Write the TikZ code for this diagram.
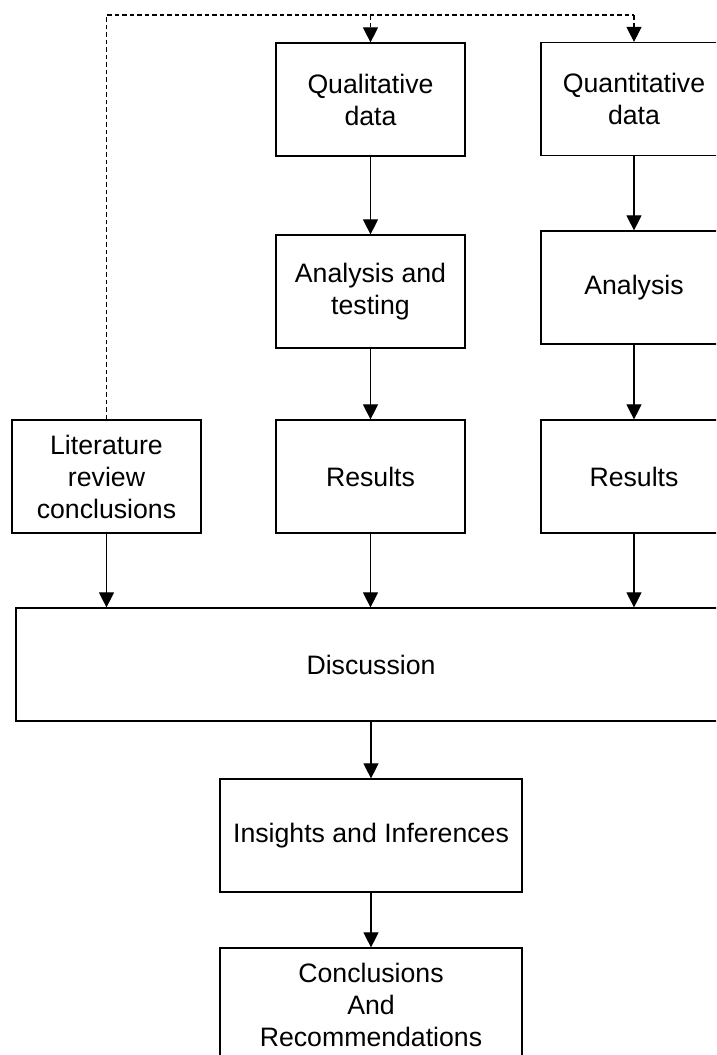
\documentclass[tikz,border=0pt]{standalone}
\usepackage{fontspec}
\setmainfont{Liberation Sans}
\usetikzlibrary{arrows.meta}
\begin{document}
\begin{tikzpicture}[x=1pt,y=-1pt,
  box/.style={draw=black,line width=1.2pt,rectangle,inner sep=0pt,align=center,
    font=\fontsize{26.67}{32}\selectfont},
  std/.style={box,minimum width=189pt,minimum height=113pt},
  rcol/.style={box,minimum width=186pt,minimum height=113pt},
  wide/.style={box,minimum width=302pt,minimum height=113pt},
  arr/.style={line width=1.1pt,-{Triangle[width=15pt,length=15pt]}},
  darr/.style={line width=1.1pt,dash pattern=on 4.5pt off 3pt,-{Triangle[width=15pt,length=15pt]}},
  dline/.style={line width=1.1pt,dash pattern=on 4.5pt off 3pt}]
\useasboundingbox (0,0) rectangle (716,1055);
\clip (0,0) rectangle (716,1055);
\fill[white] (0,0) rectangle (716,1055);
\node[std]  (qual)  at (370.5,99.5)  {Qualitative\\data};
\node[rcol] (quant) at (634,99)      {Quantitative\\data};
\node[std]  (anat)  at (370.5,291.5) {Analysis and\\testing};
\node[rcol] (ana)   at (634,287.5)   {Analysis};
\node[std]  (lit)   at (106.5,476.5) {Literature\\review\\conclusions};
\node[std]  (res1)  at (370.5,476.5) {Results};
\node[rcol] (res2)  at (634,476.5)   {Results};
\node[box,minimum width=710pt,minimum height=113pt] (disc) at (371,664.5) {Discussion};
\node[wide] (ins)   at (371,835.5)   {Insights and Inferences};
\node[wide] (conc)  at (371,1004.5)  {Conclusions\\And\\Recommendations};
\coordinate (top) at (0,15);
% dashed feedback
\draw[dline] (lit.north) -- (lit.north |- top) -- (quant.north |- top);
\draw[darr] (quant.north |- top) -- (quant.north);
\draw[darr] (qual.north |- top) -- (qual.north);
% solid arrows
\draw[arr] (qual.south) -- (anat.north);
\draw[arr] (quant.south) -- (ana.north);
\draw[arr] (anat.south) -- (res1.north);
\draw[arr] (ana.south) -- (res2.north);
\draw[arr] (lit.south) -- (lit.south |- disc.north);
\draw[arr] (res1.south) -- (res1.south |- disc.north);
\draw[arr] (res2.south) -- (res2.south |- disc.north);
\draw[arr] (disc.south -| ins.north) -- (ins.north);
\draw[arr] (ins.south) -- (conc.north);
\end{tikzpicture}
\end{document}
